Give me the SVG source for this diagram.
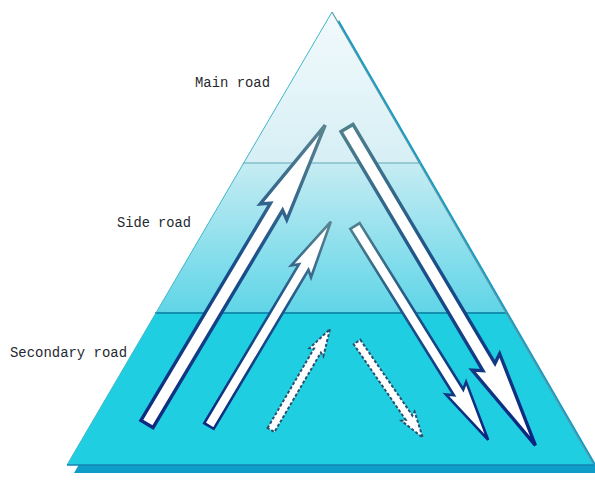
<svg xmlns="http://www.w3.org/2000/svg" width="595" height="483" viewBox="0 0 595 483">
  <defs>
    <style>
      .lbl { font-family: "Liberation Mono", "DejaVu Sans Mono", monospace; font-size: 14px; fill: #1f2a30; }
      .solid { fill: #ffffff; stroke-linejoin: miter; }
      .dash { fill: #ffffff; stroke: #2b4f6e; stroke-width: 2; stroke-dasharray: 3 2; }
    </style>
    <clipPath id="tri">
      <polygon points="332,12 67,465 594,465"/>
    </clipPath>
    <linearGradient id="b1" x1="0" y1="12" x2="0" y2="163" gradientUnits="userSpaceOnUse">
      <stop offset="0" stop-color="#f3fafc"/>
      <stop offset="1" stop-color="#d6eff5"/>
    </linearGradient>
    <linearGradient id="b2" x1="0" y1="163" x2="0" y2="313" gradientUnits="userSpaceOnUse">
      <stop offset="0" stop-color="#c6ecf3"/>
      <stop offset="1" stop-color="#5fd5e7"/>
    </linearGradient>
    <linearGradient id="gUp" x1="0" y1="0" x2="1" y2="0">
      <stop offset="0" stop-color="#0b2a80"/>
      <stop offset="0.55" stop-color="#1a4f8a"/>
      <stop offset="1" stop-color="#5a8590"/>
    </linearGradient>
    <linearGradient id="gDown" x1="0" y1="0" x2="1" y2="0">
      <stop offset="0" stop-color="#4d7f8c"/>
      <stop offset="0.45" stop-color="#1a4f8a"/>
      <stop offset="1" stop-color="#0a2580"/>
    </linearGradient>
  </defs>

  <rect x="0" y="0" width="595" height="483" fill="#ffffff"/>

  <g id="pyramid">
    <polygon points="339,20 74,473 601,473" fill="#0e9cc8"/>
    <g clip-path="url(#tri)">
      <rect x="0" y="0" width="595" height="163" fill="url(#b1)"/>
      <rect x="0" y="163" width="595" height="150" fill="url(#b2)"/>
      <rect x="0" y="313" width="595" height="160" fill="#1fcfe1"/>
    </g>
    <line x1="243" y1="163" x2="421" y2="163" stroke="#5fa9b6" stroke-width="1.2"/>
    <line x1="155" y1="313" x2="508" y2="313" stroke="#1590b0" stroke-width="2"/>
    <line x1="332" y1="12" x2="67" y2="465" stroke="#3fb6c8" stroke-width="1"/>
    <line x1="332" y1="12" x2="594" y2="465" stroke="#5a9aa8" stroke-width="1.2"/>
    <line x1="67" y1="465" x2="594" y2="465" stroke="#1585b0" stroke-width="1.5"/>
  </g>

  <g id="labels">
    <text class="lbl" x="195" y="87" textLength="75" lengthAdjust="spacingAndGlyphs">Main road</text>
    <text class="lbl" x="117" y="227" textLength="74" lengthAdjust="spacingAndGlyphs">Side road</text>
    <text class="lbl" x="10" y="357" textLength="117" lengthAdjust="spacingAndGlyphs">Secondary road</text>
  </g>

  <g id="connectors">
    <g id="arrow-main-up" transform="translate(147,424) rotate(-59.2)">
      <path class="solid" stroke="url(#gUp)" stroke-width="3.4" d="M0,-7 L253,-7 L247,-15.5 L348,0 L247,15.5 L253,7 L0,7 Z"/>
    </g>
    <g id="arrow-side-up" transform="translate(209,426) rotate(-59.2)">
      <path class="solid" stroke="url(#gUp)" stroke-width="2.6" d="M0,-5.5 L185,-5.5 L180,-11.5 L238,0 L180,11.5 L185,5.5 L0,5.5 Z"/>
    </g>
    <g id="arrow-sec-up" transform="translate(271,430) rotate(-59.7)">
      <path class="dash" d="M0,-4 L92,-4 L90,-8 L117,0 L90,8 L92,4 L0,4 Z"/>
    </g>
    <g id="arrow-sec-down" transform="translate(357,342) rotate(55.5)">
      <path class="dash" d="M0,-4 L92,-4 L90,-8 L116,0 L90,8 L92,4 L0,4 Z"/>
    </g>
    <g id="arrow-side-down" transform="translate(355,226) rotate(58.1)">
      <path class="solid" stroke="url(#gDown)" stroke-width="2.6" d="M0,-5.5 L196,-5.5 L191,-12 L252,0 L191,12 L196,5.5 L0,5.5 Z"/>
    </g>
    <g id="arrow-main-down" transform="translate(347,128) rotate(59.3)">
      <path class="solid" stroke="url(#gDown)" stroke-width="3.4" d="M0,-7 L278,-7 L272,-16 L369,0 L272,16 L278,7 L0,7 Z"/>
    </g>
  </g>
</svg>
